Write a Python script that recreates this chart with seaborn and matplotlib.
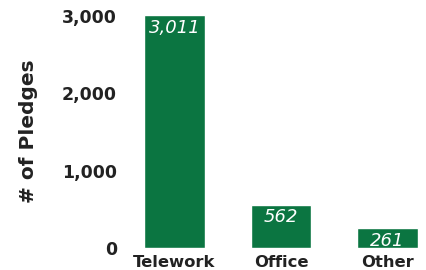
import matplotlib
matplotlib.use("Agg")
import matplotlib.pyplot as plt
import seaborn as sns
import pandas as pd

# Data
categories = ["Telework", "Office", "Other"]
pledges = [3011, 562, 261]
value_labels = ["3,011", "562", "261"]
y_ticks = [0, 1000, 2000, 3000]
y_tick_labels = ["0", "1,000", "2,000", "3,000"]

sns.set_theme(style="white")
plt.rcParams['font.family'] = ['DejaVu Sans']

df = pd.DataFrame({"category": categories, "pledges": pledges})

fig = plt.figure(figsize=(4.27, 2.70), dpi=100)
ax = fig.add_axes([128 / 427, 1 - 248 / 270, (420 - 128) / 427, (248 - 15) / 270])

sns.barplot(data=df, x="category", y="pledges", color="#0b7541",
            saturation=1, width=0.57, ax=ax)

# labels sit ~18 px below each bar top (1 px ~ 12.9 units)
for i, (v, lab) in enumerate(zip(pledges, value_labels)):
    ax.text(i, v - 230, lab, ha="center", va="baseline", color="white",
            fontsize=13, fontstyle="italic")

ax.set_xlim(-0.437, 2.305)
ax.set_ylim(0, 3011)
ax.set_yticks(y_ticks)
ax.set_yticklabels(y_tick_labels, fontsize=12.5, fontweight="bold", color="#222222")
ax.set_xticklabels(categories, fontsize=11.8, fontweight="bold", color="#222222")
ax.tick_params(axis="x", pad=5, length=0)
ax.tick_params(axis="y", pad=8, length=0)
ax.set_xlabel("")
ax.set_ylabel("# of Pledges", fontsize=14.5, fontweight="bold", color="#222222", labelpad=17)
sns.despine(ax=ax, left=True, bottom=True)

fig.savefig("out.png", dpi=100)
